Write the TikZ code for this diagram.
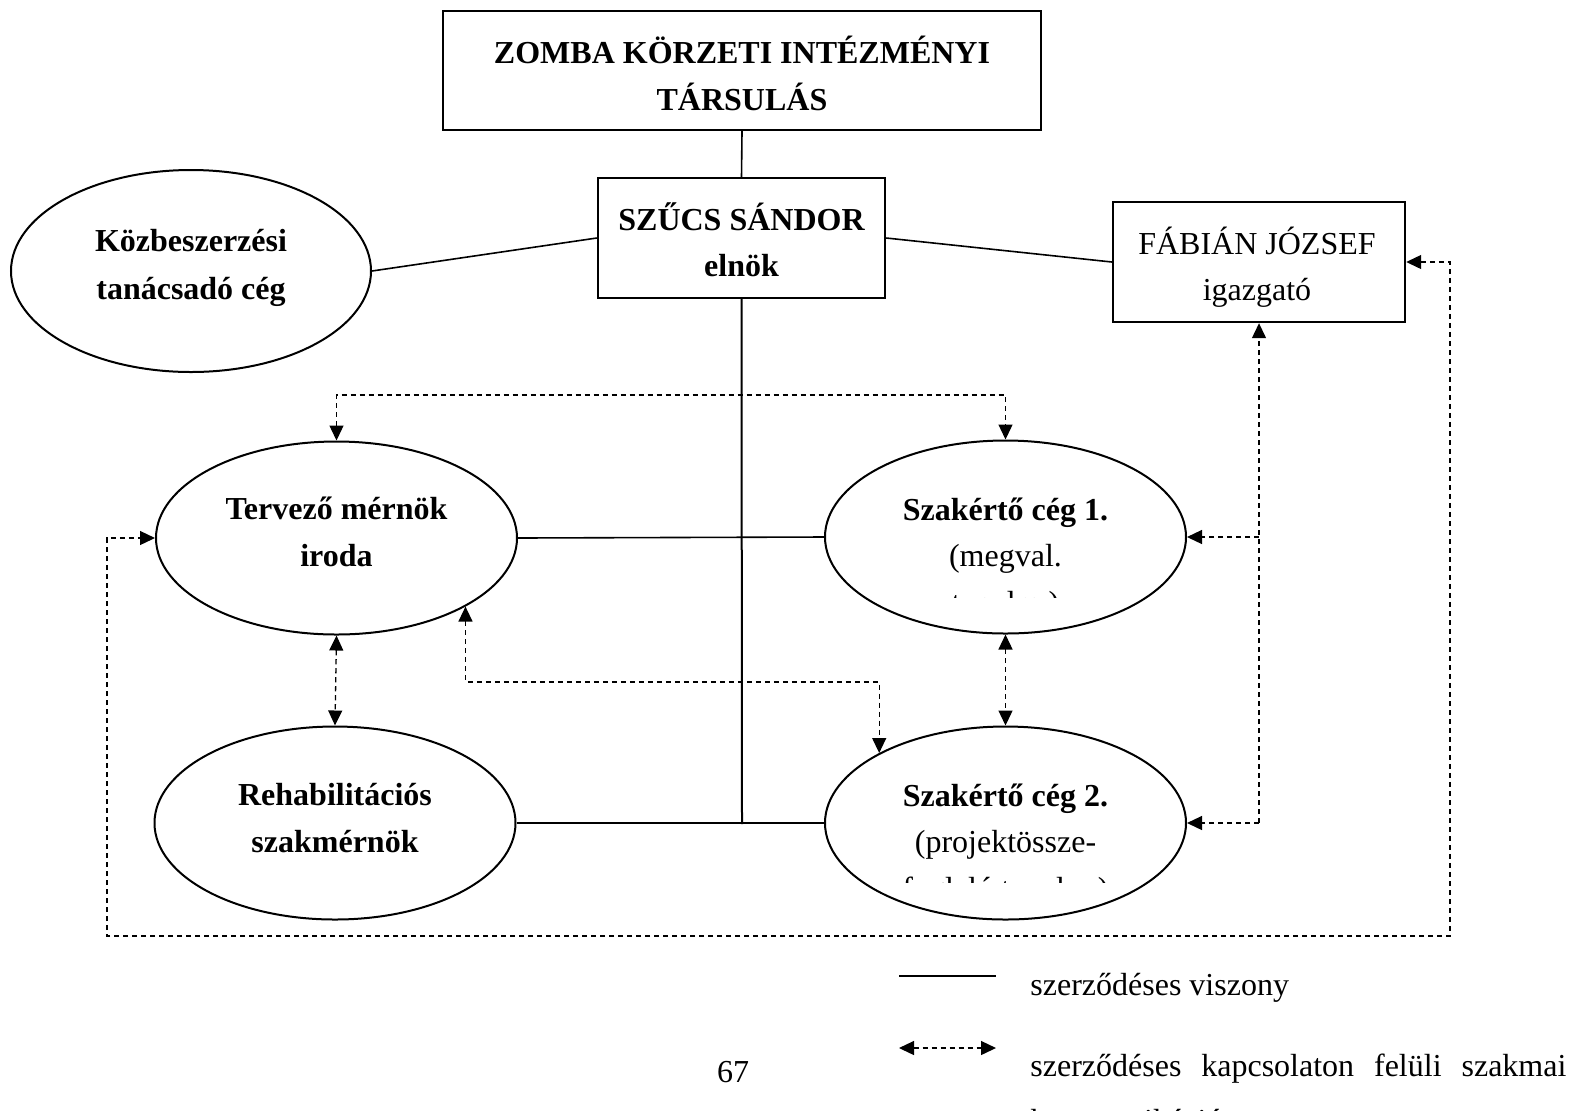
\documentclass[tikz,border=0pt]{standalone}
\usepackage{fontspec}
\setmainfont{Liberation Serif}
\usetikzlibrary{shapes.geometric,arrows.meta}
\newcommand\fsz{\fontsize{16}{23.5}\selectfont}
\begin{document}
\begin{tikzpicture}[x=0.5pt,y=-0.5pt,
  every node/.style={font=\fsz, inner sep=0pt},
  box/.style={draw, line width=1.2pt, rectangle},
  oval/.style={draw, line width=1pt, ellipse, minimum width=180.5pt, minimum height=96.5pt},
  txt/.style={anchor=base},
  btxt/.style={anchor=base, font=\fsz\bfseries},
  sl/.style={line width=0.8pt},
  dl/.style={line width=0.65pt, dash pattern=on 2.6pt off 1.9pt, >={Triangle[length=7.5pt,width=7pt]}}
]
\useasboundingbox (0,0) rectangle (1573,1110);
\fill[white] (0,0) rectangle (1573,1110);

% boxes
\node[box, minimum width=299pt, minimum height=59.5pt] (top) at (742,70.5) {};
\node[btxt] (topa) at (742,63) {ZOMBA KÖRZETI INTÉZMÉNYI};
\node[btxt] (topb) at (742,110) {TÁRSULÁS};
\node[box, minimum width=143.5pt, minimum height=60pt] (szucs) at (741.5,238) {};
\node[btxt] (szucsa) at (741.5,230) {SZŰCS SÁNDOR};
\node[btxt] (szucsb) at (741.5,276) {elnök};
\node[box, minimum width=146pt, minimum height=60pt] (fab) at (1259,262) {};
\node[txt] (faba) at (1257,254) {FÁBIÁN JÓZSEF};
\node[txt] (fabb) at (1257,300) {igazgató};

% ellipses
\node[oval, minimum width=180pt, minimum height=101pt] (kozb) at (191,271) {};
\node[btxt] (kozba) at (191,251) {Közbeszerzési};
\node[btxt] (kozbb) at (191,299) {tanácsadó cég};
\node[oval] (terv) at (336.5,538) {};
\node[btxt] (terva) at (336.5,519) {Tervező mérnök};
\node[btxt] (tervb) at (336.5,566) {iroda};
\node[oval] (szak1) at (1005.5,537) {};
\node[oval] (rehab) at (335,823) {};
\node[btxt] (rehaba) at (335,805) {Rehabilitációs};
\node[btxt] (rehabb) at (335,852) {szakmérnök};
\node[oval] (szak2) at (1005.5,823) {};

\begin{scope}
  \clip (830,450) rectangle (1180,597);
  \node[btxt] (s1a) at (1005.5,520) {Szakértő cég 1.};
  \node[txt] (s1b) at (1005.5,566) {(megval.};
  \node[txt] (s1c) at (1005.5,613) {tanulm.)};
\end{scope}
\begin{scope}
  \clip (830,735) rectangle (1180,882);
  \node[btxt] (s2a) at (1005.5,806) {Szakértő cég 2.};
  \node[txt] (s2b) at (1005.5,852) {(projektössze-};
  \node[txt] (s2c) at (1005.5,899) {foglaló tanulm.)};
\end{scope}

% solid connectors
\coordinate (jn) at (742,824);
\draw[sl] (top.south) -- (szucs.north);
\draw[sl, line width=1pt] (szucs.south) -- (jn);
\draw[sl] (szucs.west) -- (kozb.east);
\draw[sl] (szucs.east) -- (fab.west);
\draw[sl] (terv.east) -- (szak1.west);
\draw[sl] (rehab.east) -- (szak2.west);

% dashed connectors
\coordinate (tt) at (0,395);
\draw[dl,<->] (terv.north) -- (terv.north |- tt) -- (szak1.north |- tt) -- (szak1.north);
\draw[dl,<->] (terv.south) -- (rehab.north);
\draw[dl,<->] (szak1.south) -- (szak2.north);
\coordinate (mm) at (0,682);
\draw[dl,<->] (terv.-28.9) -- (terv.-28.9 |- mm) -- (szak2.151.1 |- mm) -- (szak2.151.1);
\draw[dl,->] (fab.south |- szak2.east) -- (fab.south);
\draw[dl,->] (fab.south |- szak1.east) -- (szak1.east);
\draw[dl,->] (fab.south |- szak2.east) -- (szak2.east);
\coordinate (orr) at (1450,936);
\coordinate (oll) at (107,936);
\draw[dl,<->] (fab.east) -| (orr) -- (oll) |- (terv.west);

% legend
\coordinate (la) at (899,976);
\coordinate (lb) at (996,976);
\draw[sl, line width=1pt] (la) -- (lb);
\coordinate (lc) at (899,1048);
\coordinate (ld) at (996,1048);
\draw[dl,<->] (lc) -- (ld);
\node[anchor=base west] (leg1) at (1030,995) {szerződéses viszony};
\node[anchor=base west] (leg2) at (1030,1076) {\makebox[268pt][s]{szerződéses kapcsolaton felüli szakmai}};
\node[anchor=base west] (leg3) at (1030,1131) {kommunikáció};
\node[anchor=base] (pg) at (733,1082) {67};
\end{tikzpicture}
\end{document}
